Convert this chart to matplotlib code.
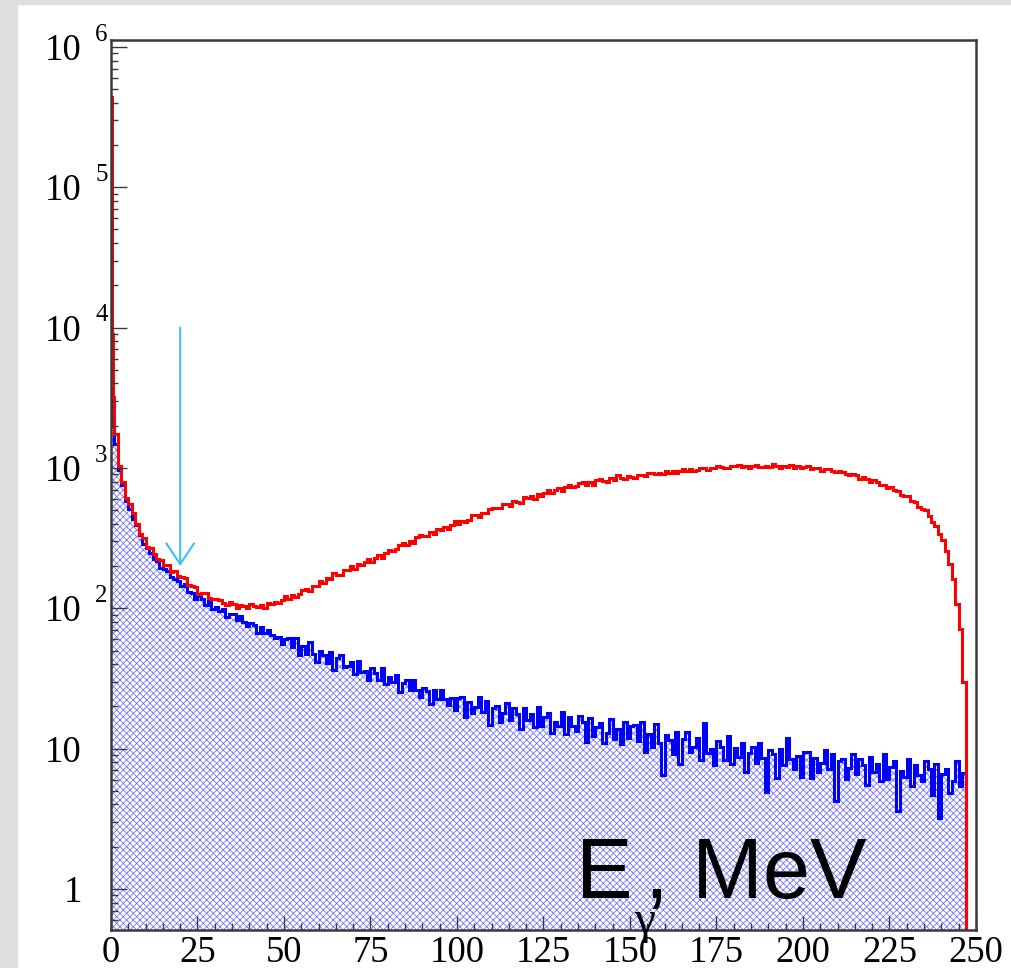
import matplotlib
matplotlib.use( 'Agg' )
import matplotlib.pyplot as plt
from matplotlib.patches import Rectangle
from matplotlib.ticker import MultipleLocator, LogLocator, FixedLocator, NullFormatter

# ----- data ----------------------------------------------------------------
# bin edges in MeV: three narrow bins near zero, then 1 MeV bins up to 250
bin_edges = [0, 0.25, 0.5] + list( range(1, 251) )

# red histogram (counts per bin)
red_counts = [
	440000, 9000, 3200,
	1750, 1030, 788, 614, 551, 478, 396, 340, 316, 274,
	271, 243, 223, 220, 205, 203, 180, 184, 169, 166,
	163, 146, 144, 141, 126, 129, 128, 118, 116, 116,
	114, 109, 106, 110, 107, 100, 106, 103, 100, 107,
	104, 102, 106, 101, 109, 107, 111, 109, 114, 122,
	117, 124, 121, 127, 136, 138, 133, 144, 144, 157,
	151, 164, 162, 179, 174, 174, 186, 186, 199, 190,
	206, 203, 214, 226, 215, 228, 239, 228, 248, 260,
	254, 264, 281, 290, 284, 301, 294, 320, 335, 327,
	330, 351, 337, 369, 361, 377, 370, 389, 417, 397,
	422, 410, 428, 459, 459, 444, 479, 476, 513, 520,
	515, 519, 556, 556, 532, 579, 576, 566, 616, 606,
	630, 599, 649, 635, 667, 699, 663, 696, 722, 684,
	735, 758, 729, 744, 775, 791, 760, 792, 760, 816,
	840, 808, 799, 849, 823, 888, 852, 832, 873, 861,
	850, 891, 888, 876, 918, 915, 903, 927, 906, 949,
	926, 949, 926, 950, 984, 951, 977, 954, 969, 1005,
	999, 973, 1007, 991, 1025, 1018, 1001, 1004, 1037, 1030,
	1042, 1014, 1036, 1007, 1040, 1051, 1021, 1010, 1040, 1020,
	1060, 1028, 1006, 1036, 1015, 1042, 999, 1026, 1003, 1020,
	1025, 979, 993, 997, 951, 982, 983, 946, 939, 949,
	937, 907, 895, 910, 889, 838, 856, 832, 800, 816,
	792, 760, 760, 721, 734, 691, 683, 641, 632, 628,
	580, 568, 527, 509, 500, 458, 409, 384, 337, 306,
	258, 208, 162, 108, 71, 30, 0, 0, 0,
]

# blue (hatched) histogram
blue_counts = [
	3200, 2600, 2000,
	1480, 971, 760, 586, 508, 433, 391, 333, 287, 268,
	246, 224, 216, 194, 191, 183, 168, 162, 156, 144,
	149, 131, 128, 116, 123, 116, 106, 113, 99, 102,
	96, 99, 86, 91, 91, 83, 88, 80, 75, 79,
	76, 67, 73, 67, 70, 64.5, 61, 62, 56, 60,
	61.9, 53.1, 61.7, 46.8, 53.6, 47.2, 57.5, 47.5, 41.5, 49.8,
	46.7, 41.0, 48.6, 36.6, 43.9, 46.1, 38.0, 39.0, 41.7, 34.0,
	42.3, 35.0, 35.9, 31.0, 37.6, 34.8, 30.6, 37.3, 28.8, 32.4,
	29.6, 33.2, 25.5, 29.4, 30.6, 26.2, 30.6, 26.3, 23.4, 27.0,
	25.8, 20.8, 26.2, 22.4, 26.1, 22.6, 20.5, 22.8, 18.8, 22.9,
	23.5, 16.9, 21.6, 17.8, 19.8, 23.5, 18.1, 21.7, 14.8, 19.6,
	20.2, 15.6, 17.8, 21.1, 16.1, 19.4, 17.7, 13.8, 19.6, 16.1,
	17.7, 14.3, 19.9, 14.4, 16.7, 17.9, 12.9, 15.5, 14.4, 18.2,
	12.8, 16.7, 14.5, 13.4, 17.2, 15.5, 11.2, 16.4, 12.2, 14.3,
	15.1, 11.0, 13.0, 16.3, 11.8, 13.8, 10.8, 15.5, 12.0, 14.4,
	14.7, 11.4, 15.4, 9.4, 12.7, 10.2, 15.0, 11.0, 6.5, 12.6,
	11.5, 9.2, 13.2, 7.8, 11.7, 13.1, 9.4, 10.2, 11.9, 8.3,
	15.2, 9.3, 10.0, 7.7, 11.4, 10.2, 8.3, 12.2, 7.8, 10.1,
	8.7, 11.0, 6.8, 9.3, 10.3, 7.9, 10.9, 8.6, 4.9, 9.7,
	9.1, 6.2, 9.9, 7.7, 12.0, 8.4, 7.1, 8.9, 6.3, 9.5,
	9.4, 6.2, 8.6, 6.8, 7.9, 9.8, 7.1, 9.1, 4.2, 8.1,
	8.5, 6.1, 7.3, 9.2, 6.6, 8.4, 7.6, 5.5, 8.7, 6.8,
	7.8, 5.9, 9.1, 6.1, 7.4, 8.1, 3.6, 6.9, 6.3, 8.5,
	5.4, 7.6, 6.5, 5.9, 8.1, 7.1, 4.7, 7.8, 3.2, 6.6,
	7.1, 4.8, 5.9, 8.1, 5.4, 6.7, 0, 0, 0,
]

# cyan arrow (MeV, counts)
arrow_x = 20
arrow_y_from = 1e4
arrow_y_to = 200

x_ticks = [0, 25, 50, 75, 100, 125, 150, 175, 200, 225, 250]
y_ticks = [1, 10, 1e2, 1e3, 1e4, 1e5, 1e6]
y_tick_base = ['1', '10', '10', '10', '10', '10', '10']
y_tick_exp  = ['', '', '2', '3', '4', '5', '6']

# ----- figure ----------------------------------------------------------------
W, H = 1012, 968
plt.rcParams['font.family'] = 'Liberation Serif'
plt.rcParams['hatch.linewidth'] = 0.6

fig = plt.figure( figsize=(W / 100, H / 100), dpi=100 )
fig.patch.set_facecolor( 'white' )
# grey canvas frame on left and top
fig.patches.append( Rectangle( (0, 0), 17 / W, 1, transform=fig.transFigure, color='#dedede', zorder=-5 ) )
fig.patches.append( Rectangle( (0, 1 - 4 / H), 1, 4 / H, transform=fig.transFigure, color='#dedede', zorder=-5 ) )

ax = fig.add_axes( [111 / W, 1 - 930 / H, 865 / W, 890 / H] )
ax.set_yscale( 'log' )
ax.set_xlim( 0, 250 )
ax.set_ylim( 0.51, 1.12e6 )

# hatched blue area + outlines
ax.stairs( blue_counts, bin_edges, fill=True, baseline=1e-3, facecolor='white',
	edgecolor='#7474ff', hatch='xxxxx', linewidth=0 )
ax.stairs( blue_counts, bin_edges, baseline=None, color='#0000ff', linewidth=2.2 )
ax.stairs( red_counts, bin_edges, baseline=None, color='#ff0000', linewidth=2.2 )

ax.annotate( '', xy=(arrow_x, arrow_y_to), xytext=(arrow_x, arrow_y_from),
	arrowprops=dict( arrowstyle='->,head_length=0.75,head_width=0.5', color='#3cc0f0',
		lw=1.5, mutation_scale=20, shrinkA=0, shrinkB=0 ) )

# frame + ticks, ROOT style
for sp in ax.spines.values():
	sp.set_color( '#3a3a3a' )
	sp.set_linewidth( 1.8 )
	sp.set_zorder( 5 )

ax.xaxis.set_major_locator( FixedLocator(x_ticks) )
ax.xaxis.set_minor_locator( MultipleLocator(5) )
ax.yaxis.set_major_locator( FixedLocator(y_ticks) )
ax.yaxis.set_minor_locator( LogLocator( base=10, subs=range(2, 10), numticks=20 ) )
ax.yaxis.set_major_formatter( NullFormatter() )
ax.yaxis.set_minor_formatter( NullFormatter() )

ax.tick_params( which='both', direction='in', top=False, right=False, color='#3a3a3a', width=1 )
ax.tick_params( axis='x', which='major', length=10, labelsize=26.5, pad=4 )
ax.tick_params( axis='x', which='minor', length=5 )
ax.tick_params( axis='y', which='major', length=11.5 )
ax.tick_params( axis='y', which='minor', length=5 )
ax.set_xticklabels( [str(t) for t in x_ticks] )

# y labels like "10 ^6" drawn by hand
for val, base, ex in zip( y_ticks, y_tick_base, y_tick_exp ):
	ax.annotate( base, xy=(0, val), xycoords=ax.get_yaxis_transform(), xytext=(-20.9, -9.4),
		textcoords='offset points', ha='right', va='baseline', fontsize=26.5, annotation_clip=False )
	if ex:
		ax.annotate( ex, xy=(0, val), xycoords=ax.get_yaxis_transform(), xytext=(-11.5, 4.5),
			textcoords='offset points', ha='left', va='baseline', fontsize=18, annotation_clip=False )

# axis title inside the plot
fig.text( 576 / W, 1 - 898 / H, 'E', fontsize=61, family='Liberation Sans', ha='left', va='baseline' )
fig.text( 634 / W, 1 - 933 / H, 'γ', fontsize=34, family='Liberation Serif', ha='left', va='baseline' )
fig.text( 645 / W, 1 - 898 / H, ', MeV', fontsize=61, family='Liberation Sans', ha='left', va='baseline' )

fig.savefig( 'out.png', dpi=100 )
